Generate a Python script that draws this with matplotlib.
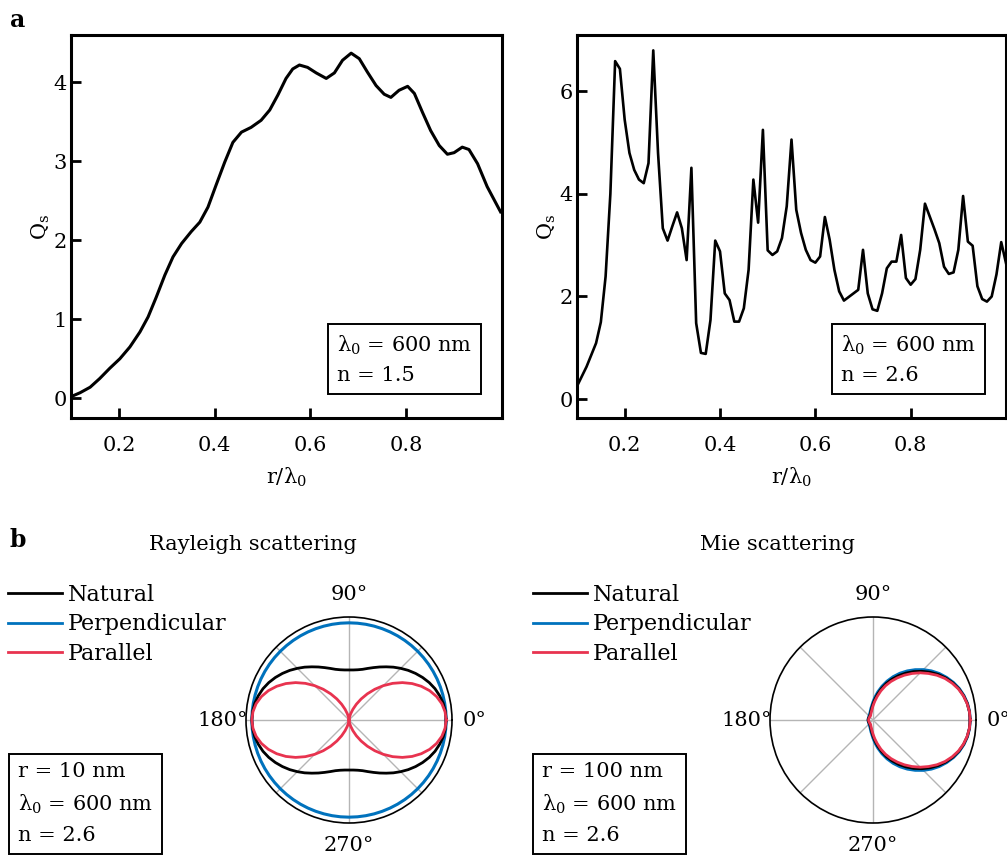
import numpy as np
import matplotlib
matplotlib.use("Agg")
import matplotlib.pyplot as plt
from matplotlib.lines import Line2D

plt.rcParams["font.family"] = ["DejaVu Serif"]
plt.rcParams["mathtext.fontset"] = "custom"
plt.rcParams["mathtext.rm"] = "DejaVu Serif"
plt.rcParams["mathtext.it"] = "DejaVu Serif:italic"

# ---- panel a: scattering efficiency vs r/lambda0 ----
x_left = [0.100, 0.119, 0.140, 0.160, 0.181, 0.202, 0.223, 0.244, 0.261, 0.278,
          0.296, 0.313, 0.331, 0.351, 0.369, 0.386, 0.403, 0.421, 0.438, 0.456,
          0.476, 0.497, 0.515, 0.532, 0.549, 0.563, 0.577, 0.594, 0.612, 0.633,
          0.650, 0.667, 0.685, 0.702, 0.719, 0.737, 0.754, 0.768, 0.785, 0.803,
          0.817, 0.834, 0.851, 0.869, 0.886, 0.900, 0.917, 0.931, 0.949, 0.969,
          0.997]
q_left = [0.02, 0.07, 0.14, 0.25, 0.38, 0.50, 0.65, 0.84, 1.03, 1.28,
          1.56, 1.79, 1.96, 2.11, 2.23, 2.42, 2.70, 2.99, 3.24, 3.37,
          3.43, 3.52, 3.65, 3.84, 4.05, 4.17, 4.22, 4.19, 4.12, 4.05,
          4.12, 4.28, 4.37, 4.30, 4.13, 3.96, 3.85, 3.81, 3.90, 3.95,
          3.86, 3.62, 3.39, 3.20, 3.09, 3.11, 3.18, 3.15, 2.97, 2.68,
          2.36]

x_right = np.round(np.arange(0.10, 1.001, 0.01), 2)
q_right = [0.25, 0.44, 0.63, 0.86, 1.09, 1.50, 2.39, 4.00, 6.59, 6.44,
           5.45, 4.80, 4.47, 4.28, 4.21, 4.60, 6.80, 4.80, 3.33, 3.09,
           3.37, 3.64, 3.33, 2.71, 4.51, 1.48, 0.90, 0.88, 1.54, 3.09,
           2.88, 2.06, 1.93, 1.51, 1.51, 1.77, 2.52, 4.28, 3.44, 5.25,
           2.90, 2.81, 2.88, 3.14, 3.76, 5.06, 3.69, 3.24, 2.91, 2.71,
           2.66, 2.78, 3.55, 3.11, 2.52, 2.10, 1.92, 1.99, 2.06, 2.13,
           2.91, 2.06, 1.75, 1.72, 2.06, 2.55, 2.68, 2.68, 3.20, 2.36,
           2.23, 2.34, 2.91, 3.81, 3.56, 3.31, 3.04, 2.58, 2.44, 2.47,
           2.91, 3.96, 3.07, 2.99, 2.20, 1.95, 1.90, 2.00, 2.43, 3.06,
           2.65]

# ---- panel b: angular intensity, 0..180 deg in 5 deg steps (mirrored for 180..360) ----
theta_half = np.arange(0, 181, 5)
ray_nat = [1.0, 0.996, 0.985, 0.966, 0.942, 0.911, 0.875, 0.836, 0.795, 0.752,
           0.71, 0.668, 0.63, 0.595, 0.565, 0.54, 0.525, 0.517, 0.515, 0.517,
           0.525, 0.54, 0.565, 0.595, 0.63, 0.668, 0.71, 0.752, 0.795, 0.836,
           0.875, 0.911, 0.942, 0.966, 0.985, 0.996, 1.0]
ray_perp = [1.0] * 37
ray_par = [1.0, 0.992, 0.97, 0.933, 0.883, 0.821, 0.75, 0.671, 0.587, 0.5,
           0.413, 0.329, 0.25, 0.179, 0.117, 0.067, 0.03, 0.008, 0.0, 0.008,
           0.03, 0.067, 0.117, 0.179, 0.25, 0.329, 0.413, 0.5, 0.587, 0.671,
           0.75, 0.821, 0.883, 0.933, 0.97, 0.992, 1.0]

mie_nat = [1.0, 0.996, 0.985, 0.966, 0.94, 0.906, 0.865, 0.818, 0.765, 0.709,
           0.65, 0.589, 0.527, 0.463, 0.40, 0.334, 0.27, 0.213, 0.165, 0.13,
           0.105, 0.088, 0.075, 0.066, 0.06, 0.057, 0.055, 0.053, 0.05, 0.05,
           0.05, 0.05, 0.05, 0.05, 0.05, 0.05, 0.05]
mie_perp = [1.0, 0.997, 0.987, 0.969, 0.945, 0.913, 0.875, 0.833, 0.785, 0.732,
            0.675, 0.616, 0.555, 0.491, 0.425, 0.359, 0.295, 0.236, 0.185, 0.146,
            0.12, 0.10, 0.085, 0.076, 0.07, 0.065, 0.06, 0.057, 0.055, 0.05,
            0.05, 0.05, 0.05, 0.05, 0.05, 0.05, 0.05]
mie_par = [1.0, 0.996, 0.983, 0.963, 0.935, 0.898, 0.855, 0.803, 0.745, 0.687,
           0.625, 0.563, 0.50, 0.438, 0.375, 0.31, 0.245, 0.19, 0.145, 0.112,
           0.09, 0.075, 0.065, 0.057, 0.05, 0.05, 0.05, 0.048, 0.045, 0.045,
           0.045, 0.045, 0.045, 0.045, 0.045, 0.045, 0.045]

BLUE = "#0072BD"
RED = "#E8334F"
FS = 15

W, H = 1007, 857


def full_circle(vals):
    # curves are symmetric about the 0-180 axis
    v = np.asarray(vals, dtype=float)
    th = np.concatenate([theta_half, 360 - theta_half[-2::-1]])
    return np.deg2rad(th), np.concatenate([v, v[-2::-1]])


def fbox(l, t, r, b):
    return [l / W, 1 - b / H, (r - l) / W, (b - t) / H]


fig = plt.figure(figsize=(10.07, 8.57), dpi=100)

ax1 = fig.add_axes(fbox(71, 35, 502, 418))
ax2 = fig.add_axes(fbox(577, 35, 1006, 418))

for ax, xs, ys, ylim, yt, lw, nval in [
        (ax1, x_left, q_left, (-0.25, 4.6), [0, 1, 2, 3, 4], 2.2, "1.5"),
        (ax2, x_right, q_right, (-0.37, 7.1), [0, 2, 4, 6], 1.9, "2.6")]:
    ax.plot(xs, ys, color="black", lw=lw)
    ax.set_xlim(0.1, 1.0)
    ax.set_ylim(*ylim)
    ax.set_xticks([0.2, 0.4, 0.6, 0.8])
    ax.set_yticks(yt)
    ax.tick_params(direction="in", length=7, width=2, labelsize=FS)
    ax.tick_params(axis="x", pad=13)
    ax.tick_params(axis="y", pad=3)
    for sp in ax.spines.values():
        sp.set_linewidth(2.2)
    ax.set_xlabel("r/λ$_0$", fontsize=FS, labelpad=8)
    ax.set_ylabel("Q$_\\mathrm{s}$", fontsize=FS, labelpad=1)
    ax.text(0.93, 0.086, "λ$_0$ = 600 nm\nn = " + nval, transform=ax.transAxes,
            ha="right", va="bottom", multialignment="left", fontsize=FS,
            linespacing=1.6,
            bbox=dict(boxstyle="square,pad=0.42", fc="white", ec="black", lw=1.4))

fig.text(10 / W, 1 - 20 / H, "a", fontsize=17, fontweight="bold", va="center")
fig.text(10 / W, 1 - 540 / H, "b", fontsize=17, fontweight="bold", va="center")


def polar_panel(cx, title_x, leg_x, box_x, nat, perp, par, title, info):
    pax = fig.add_axes(fbox(cx - 103, 617, cx + 103, 823), projection="polar")
    th, r = full_circle(perp)
    pax.plot(th, r, color=BLUE, lw=2.2, zorder=3)
    th, r = full_circle(nat)
    pax.plot(th, r, color="black", lw=2.0, zorder=4)
    th, r = full_circle(par)
    pax.plot(th, r, color=RED, lw=2.0, zorder=5)
    pax.set_rlim(0, 1.06)
    pax.set_yticks([])
    pax.set_thetagrids(range(0, 360, 45),
                       labels=["0°", "", "90°", "", "180°", "", "270°", ""],
                       fontsize=FS)
    pax.xaxis.grid(True, color="#b5b5b5", lw=1.0)
    pax.tick_params(pad=6)
    pax.spines["polar"].set_linewidth(1.2)

    fig.text(title_x / W, 1 - 545 / H, title, fontsize=FS, ha="center", va="center")
    handles = [Line2D([], [], color="black", lw=2),
               Line2D([], [], color=BLUE, lw=2),
               Line2D([], [], color=RED, lw=2)]
    fig.legend(handles, ["Natural", "Perpendicular", "Parallel"],
               loc="upper left", bbox_to_anchor=(leg_x / W, 1 - 584 / H),
               frameon=False, fontsize=16, handlelength=2.45, handletextpad=0.25,
               labelspacing=0.33, borderpad=0, borderaxespad=0)
    fig.text((box_x + 8) / W, 1 - 845 / H, info, fontsize=FS, ha="left", va="bottom",
             linespacing=1.65,
             bbox=dict(boxstyle="square,pad=0.42", fc="white", ec="black", lw=1.4))
    return pax


polar_panel(349, 253, 8, 10, ray_nat, ray_perp, ray_par,
            "Rayleigh scattering", "r = 10 nm\nλ$_0$ = 600 nm\nn = 2.6")
polar_panel(873, 777, 533, 534, mie_nat, mie_perp, mie_par,
            "Mie scattering", "r = 100 nm\nλ$_0$ = 600 nm\nn = 2.6")

fig.savefig("out.png", dpi=100)
